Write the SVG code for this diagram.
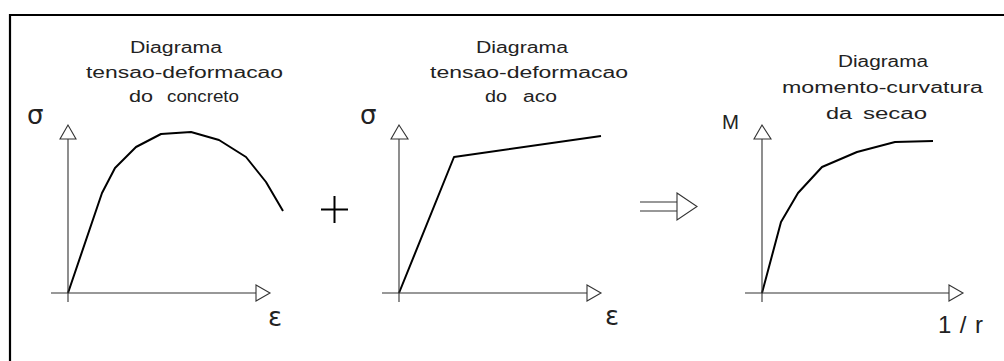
<svg xmlns="http://www.w3.org/2000/svg" width="1004" height="361" viewBox="0 0 1004 361">
<style>
.frame{fill:none;stroke:#000;stroke-width:2.2}
.axis{fill:none;stroke:#333;stroke-width:1.1}
.head{fill:#fff;stroke:#333;stroke-width:1.1}
.curve{fill:none;stroke:#000;stroke-width:2;stroke-linejoin:round}
.t{font-family:"Liberation Sans",Arial,sans-serif;font-size:16px;fill:#222}
.sym{font-family:"DejaVu Sans","Liberation Sans",sans-serif;font-size:26px;fill:#222}
</style>
<rect width="1004" height="361" fill="#fff"/>
<path class="frame" d="M10,361 V15 H1004"/>

<g id="concrete">
  <text class="t" x="130" y="53" textLength="92" lengthAdjust="spacingAndGlyphs">Diagrama</text>
  <text class="t" x="86" y="78" textLength="197" lengthAdjust="spacingAndGlyphs">tensao-deformacao</text>
  <text class="t" y="102"><tspan x="129" textLength="24" lengthAdjust="spacingAndGlyphs">do</tspan><tspan x="167" textLength="72" lengthAdjust="spacingAndGlyphs">concreto</tspan></text>
  <text class="sym" x="27" y="124">σ</text>
  <text class="sym" x="268" y="326">ε</text>
  <path class="curve" d="M68,293 L102,193 L115,168 L136,147 L161,134 L191,132 L219,140 L246,157 L266,182 L283,211"/>
</g>

<g id="plus">
  <path class="curve" stroke-width="1.6" d="M321,209.5 H348 M334.5,196 V223"/>
</g>

<g id="steel">
  <text class="t" x="476" y="53" textLength="92" lengthAdjust="spacingAndGlyphs">Diagrama</text>
  <text class="t" x="430" y="78" textLength="198" lengthAdjust="spacingAndGlyphs">tensao-deformacao</text>
  <text class="t" y="102"><tspan x="485" textLength="22" lengthAdjust="spacingAndGlyphs">do</tspan><tspan x="523" textLength="34" lengthAdjust="spacingAndGlyphs">aco</tspan></text>
  <text class="sym" x="360" y="124">σ</text>
  <text class="sym" x="605" y="325">ε</text>
  <path class="curve" d="M399,293 L454,157 L601,136"/>
</g>

<g id="implies">
  <path class="axis" d="M640,202 H677 M640,211 H677"/>
  <path class="head" d="M677,193 L697,206.5 L677,220 Z"/>
</g>

<g id="moment">
  <text class="t" x="838" y="67" textLength="90" lengthAdjust="spacingAndGlyphs">Diagrama</text>
  <text class="t" x="782" y="93" textLength="201" lengthAdjust="spacingAndGlyphs">momento-curvatura</text>
  <text class="t" y="119"><tspan x="826" textLength="26" lengthAdjust="spacingAndGlyphs">da</tspan><tspan x="863" textLength="64" lengthAdjust="spacingAndGlyphs">secao</tspan></text>
  <text class="t" x="722" y="129" style="font-size:20px" textLength="17" lengthAdjust="spacingAndGlyphs">M</text>
  <text class="t" x="938" y="333" style="font-size:24px" textLength="45" lengthAdjust="spacing">1/r</text>
  <path class="curve" d="M762,293 L781,222 L798,193 L822,167 L857,152 L895,142 L933,141"/>
</g>

<g id="connectors">
  <path class="axis" d="M68,302 V139 M51,293 H256"/>
  <path class="head" d="M68,125 L60,139 L76,139 Z M256,285 L270,293 L256,301 Z"/>
  <path class="axis" d="M399,302 V139 M382,293 H587"/>
  <path class="head" d="M399,125 L391,139 L408,139 Z M587,285 L601,293 L587,301 Z"/>
  <path class="axis" d="M762,302 V139 M745,293 H949"/>
  <path class="head" d="M762,125 L754,139 L771,139 Z M949,285 L963,293 L949,301 Z"/>
</g>
</svg>
